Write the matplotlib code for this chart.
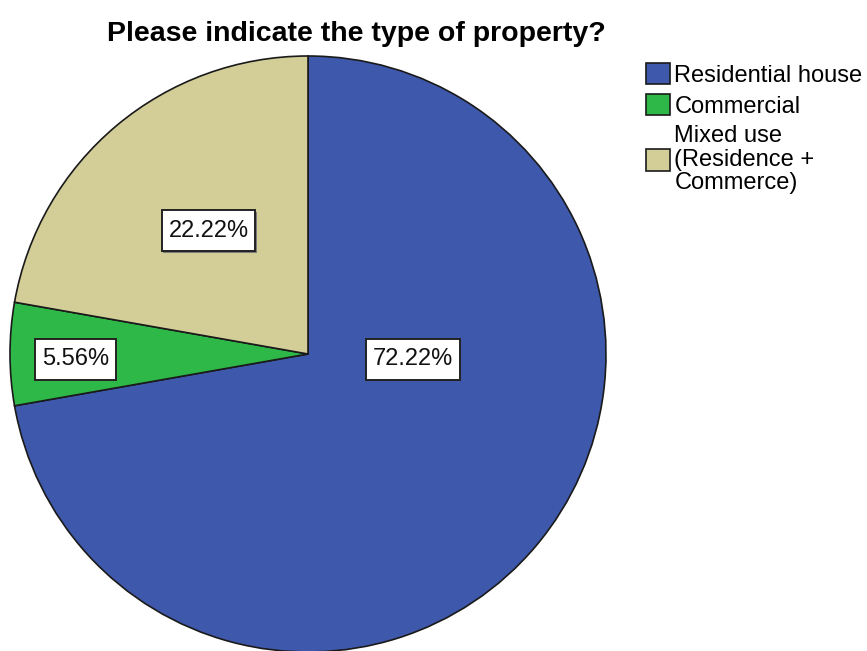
import matplotlib
matplotlib.use("Agg")
import matplotlib.pyplot as plt
from matplotlib.patches import Rectangle

# ---- data ----
categories = ["Residential house", "Commercial", "Mixed use\n(Residence +\nCommerce)"]
percentages = [72.22, 5.56, 22.22]
pct_labels = ["72.22%", "5.56%", "22.22%"]
title = "Please indicate the type of property?"

# ---- style / layout ----
colors = ["#3e58ac", "#2eb848", "#d3ce97"]
W, H = 867, 651
cx, cy, R = 308, H - 354, 298
# label placement in radius units relative to pie centre
label_offsets = [(0.352, -0.018), (-0.780, -0.017), (-0.334, 0.413)]
box_padx, box_h = 6.5, 41

plt.rcParams['font.family'] = ['Liberation Sans', 'DejaVu Sans']

fig = plt.figure(figsize=(W / 100, H / 100), dpi=100)
ax = fig.add_axes([0, 0, 1, 1])
wedges, _ = ax.pie(percentages, colors=colors, startangle=90, counterclock=False,
                   center=(cx, cy), radius=R,
                   wedgeprops=dict(edgecolor="#1a1a1a", linewidth=1.2))
ax.set_xlim(0, W)
ax.set_ylim(0, H)
ax.set_aspect("equal")
ax.axis("off")

texts = []
for lab, (fx, fy) in zip(pct_labels, label_offsets):
    x, y = cx + fx * R, cy + fy * R
    t = ax.text(x, y, lab, ha="center", va="center", fontsize=17,
                color="#111111", zorder=5)
    texts.append((t, x, y))

fig.canvas.draw()
renderer = fig.canvas.get_renderer()
inv = ax.transData.inverted()
for t, x, y in texts:
    ext = t.get_window_extent(renderer)
    (x0, _), (x1, _) = inv.transform([[ext.x0, ext.y0], [ext.x1, ext.y1]])
    w = (x1 - x0) + 2 * box_padx
    ax.add_patch(Rectangle((x - w / 2 + 1.5, y - box_h / 2 - 1.5), w, box_h,
                           fc="#7a7a7a", ec="none", zorder=3))
    ax.add_patch(Rectangle((x - w / 2, y - box_h / 2), w, box_h,
                           fc="white", ec="#222222", lw=1.4, zorder=4))

fig.text(356 / W, 1 - 41 / H, title, ha="center", va="baseline", fontsize=20.5,
         fontweight="bold", color="black")

leg = ax.legend(wedges, categories, loc="upper left",
                bbox_to_anchor=(646 / W, 1 - 63 / H), bbox_transform=fig.transFigure,
                frameon=False, fontsize=17, borderpad=0, borderaxespad=0,
                handlelength=1.0, handleheight=1.0, handletextpad=0.2,
                labelspacing=0.32)
for t in leg.get_texts():
    t.set_linespacing(1.07)

fig.savefig("out.png", dpi=100)
